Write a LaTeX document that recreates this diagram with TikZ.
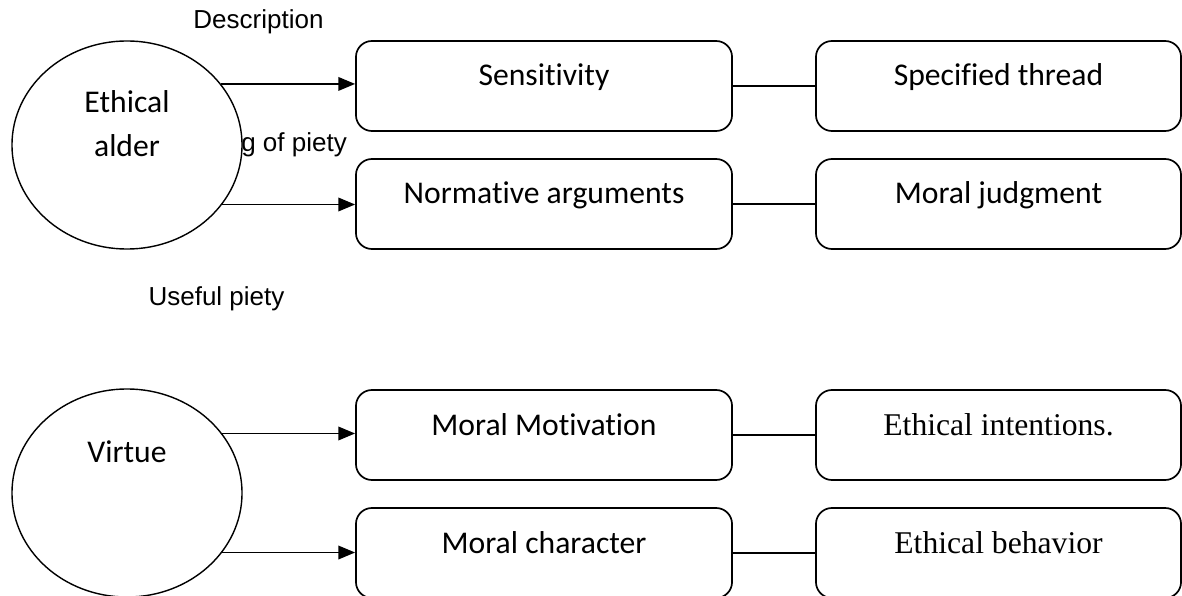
\documentclass[tikz,border=0pt]{standalone}
\usepackage{fontspec}
\setmainfont{Carlito}[Ligatures=NoCommon]
\newfontfamily\labelfont{Liberation Sans}
\newfontfamily\seriffont{Liberation Serif}
\usetikzlibrary{shapes, positioning, arrows.meta}
\tikzset{%
    % Boxes and circles
    box/.style     = {draw, rectangle, rounded corners=0.4cm, line width=1.2pt,
    minimum width=9.4cm, minimum height=2.25cm,
    text height=0.55cm, text depth=0.55cm,
    font=\fontsize{22.5}{26}\selectfont},
    outbox/.style  = {box, minimum width=9.125cm},
    concept/.style = {draw, ellipse, line width=1pt, inner sep=0pt,
    minimum width=5.75cm, minimum height=5.2cm},
    % Texts
    ctext/.style   = {anchor=base, inner sep=0pt, font=\fontsize{22.5}{26}\selectfont},
    note/.style    = {anchor=base, inner sep=0pt, font=\labelfont\fontsize{18.5}{22}\selectfont}
}

\begin{document}
\begin{tikzpicture}[x=0.025cm, y=-0.025cm]

	\tikzstyle{arc}=[-{Triangle[length=0.42cm, width=0.34cm]}, line width=1.2pt]
	\tikzstyle{link}=[line width=1.2pt]

	\useasboundingbox (0,0) rectangle (1182,596);

	% placement des noeuds
	\node[concept] (eth) at (127,145) {};
	\node[concept] (vir) at (127,493) {};
	\node[ctext] (eth1) at (127,113) {Ethical};
	\node[ctext] (eth2) at (127,157) {alder};
	\node[ctext] (vir1) at (127,462) {Virtue};

	\node[box] (sens) at (544,86) {Sensitivity};
	\node[box] (norm) at (544,204) {Normative arguments};
	\node[box] (motiv) at (544,435) {Moral Motivation};
	\node[box] (charac) at (544,553) {Moral character};

	\node[outbox] (thread) at (998.5,86) {Specified thread};
	\node[outbox] (judg) at (998.5,204) {Moral judgment};
	\node[outbox, font=\seriffont\fontsize{22.5}{26}\selectfont] (intent) at (998.5,435) {Ethical intentions.};
	\node[outbox, font=\seriffont\fontsize{22.5}{26}\selectfont] (behav) at (998.5,553) {Ethical behavior};

	% fleches
	\draw[arc] (eth.33) -- (eth.33 -| sens.west);
	\draw[arc] (eth.-32) -- (eth.-32 -| norm.west);
	\draw[arc] (vir.32) -- (vir.32 -| motiv.west);
	\draw[arc] (vir.-32.5) -- (vir.-32.5 -| charac.west);

	\draw[link] (sens) -- (thread);
	\draw[link] (norm) -- (judg);
	\draw[link] (motiv) -- (intent);
	\draw[link] (charac) -- (behav);

	% textes libres
	\node[note] (desc) at (258.5,29) {Description};
	\node[note, anchor=base west] (piety) at (241,152) {g of piety};
	\node[note] (useful) at (216.5,306) {Useful piety};

\end{tikzpicture}
\end{document}
